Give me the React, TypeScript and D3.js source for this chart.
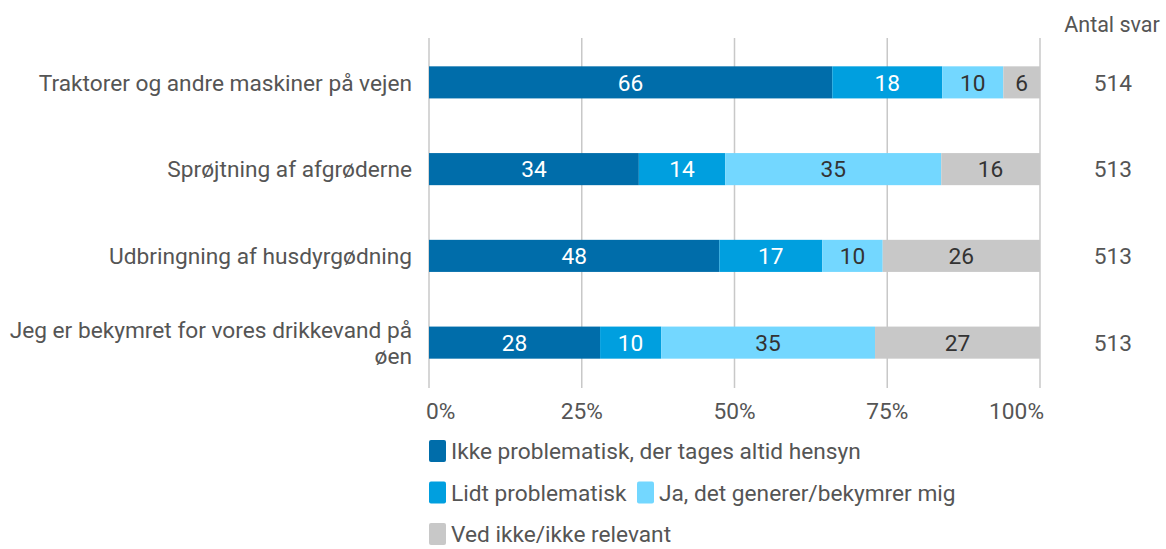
import * as d3 from "d3";

const categories = [
  ["Traktorer og andre maskiner på vejen"],
  ["Sprøjtning af afgrøderne"],
  ["Udbringning af husdyrgødning"],
  ["Jeg er bekymret for vores drikkevand på", "øen"],
];
const seriesNames = [
  "Ikke problematisk, der tages altid hensyn",
  "Lidt problematisk",
  "Ja, det generer/bekymrer mig",
  "Ved ikke/ikke relevant",
];
const ikke = [66, 34, 48, 28];
const lidt = [18, 14, 17, 10];
const ja = [10, 35, 10, 35];
const vedIkke = [6, 16, 26, 27];
const antalSvar = [514, 513, 513, 513];
const ticks = [0, 25, 50, 75, 100];

const colors = ["#006DAA", "#009FDF", "#73D7FF", "#C8C8C8"];
const labelColors = ["#fff", "#fff", "#333", "#333"];

const W = 1166;
const H = 549;
const font = "Roboto, sans-serif";
const fs = 21.5;
const fsBig = 22.7;

export default function App() {
  const x = d3.scaleLinear().domain([0, 100]).range([429, 1040]);
  const y = d3
    .scaleBand<number>()
    .domain(d3.range(categories.length))
    .range([39, 386])
    .paddingInner(0.63)
    .paddingOuter(0.315);

  const values = [ikke, lidt, ja, vedIkke];
  const rows = categories.map((_, i) => values.map((s) => s[i]));
  // each row drawn as share of its own total so the stack fills 0-100%
  const stacks = rows.map((r) => {
    const total = d3.sum(r);
    let acc = 0;
    return r.map((v, k) => {
      const x0 = (acc / total) * 100;
      acc += v;
      return { k, v, x0, x1: (acc / total) * 100 };
    });
  });

  return (
    <svg
      width={W}
      height={H}
      style={{ position: "absolute", left: 0, top: 0, fontFamily: font }}
    >
      {/* grid */}
      {ticks.map((t) => (
        <line
          key={t}
          x1={x(t)}
          x2={x(t)}
          y1={38}
          y2={388}
          stroke="#c8c8c8"
          strokeWidth={1.5}
        />
      ))}

      {/* bars */}
      {stacks.map((row, i) => (
        <g key={i}>
          {row.map((d) => (
            <g key={d.k}>
              <rect
                x={x(d.x0)}
                width={x(d.x1) - x(d.x0)}
                y={y(i)!}
                height={y.bandwidth()}
                fill={colors[d.k]}
              />
              <text
                x={(x(d.x0) + x(d.x1)) / 2}
                y={y(i)! + y.bandwidth() / 2}
                dy="0.36em"
                textAnchor="middle"
                fontSize={fsBig}
                fill={labelColors[d.k]}
              >
                {d.v}
              </text>
            </g>
          ))}
        </g>
      ))}

      {/* category labels */}
      {categories.map((lines, i) => {
        const cy = y(i)! + y.bandwidth() / 2;
        const lh = 26;
        const start = cy - ((lines.length - 1) * lh) / 2;
        return (
          <text key={i} x={412} textAnchor="end" fontSize={fsBig} fill="#555">
            {lines.map((l, j) => (
              <tspan key={j} x={412} y={start + j * lh} dy="0.36em">
                {l}
              </tspan>
            ))}
          </text>
        );
      })}

      {/* antal svar */}
      <text x={1112} y={24} dy="0.36em" textAnchor="middle" fontSize={fs} fill="#555">
        Antal svar
      </text>
      {antalSvar.map((n, i) => (
        <text
          key={i}
          x={1113}
          y={y(i)! + y.bandwidth() / 2}
          dy="0.36em"
          textAnchor="middle"
          fontSize={fsBig}
          fill="#555"
        >
          {n}
        </text>
      ))}

      {/* x axis labels */}
      {ticks.map((t) => (
        <text
          key={t}
          x={x(t)}
          y={411}
          dy="0.36em"
          textAnchor={t === 0 ? "start" : t === 100 ? "end" : "middle"}
          dx={t === 0 ? -3 : t === 100 ? 4 : 0}
          fontSize={fsBig}
          fill="#555"
        >
          {t}%
        </text>
      ))}

      {/* legend */}
      {[
        [{ k: 0, x: 429 }],
        [
          { k: 1, x: 429 },
          { k: 2, x: 637 },
        ],
        [{ k: 3, x: 429 }],
      ].map((line, li) =>
        line.map((it) => (
          <g key={`${li}-${it.k}`} transform={`translate(${it.x},${451 + li * 41.5})`}>
            <rect x={0} y={-11} width={17} height={22} rx={2} fill={colors[it.k]} />
            <text x={22} dy="0.36em" fontSize={fsBig} fill="#555">
              {seriesNames[it.k]}
            </text>
          </g>
        ))
      )}
    </svg>
  );
}
